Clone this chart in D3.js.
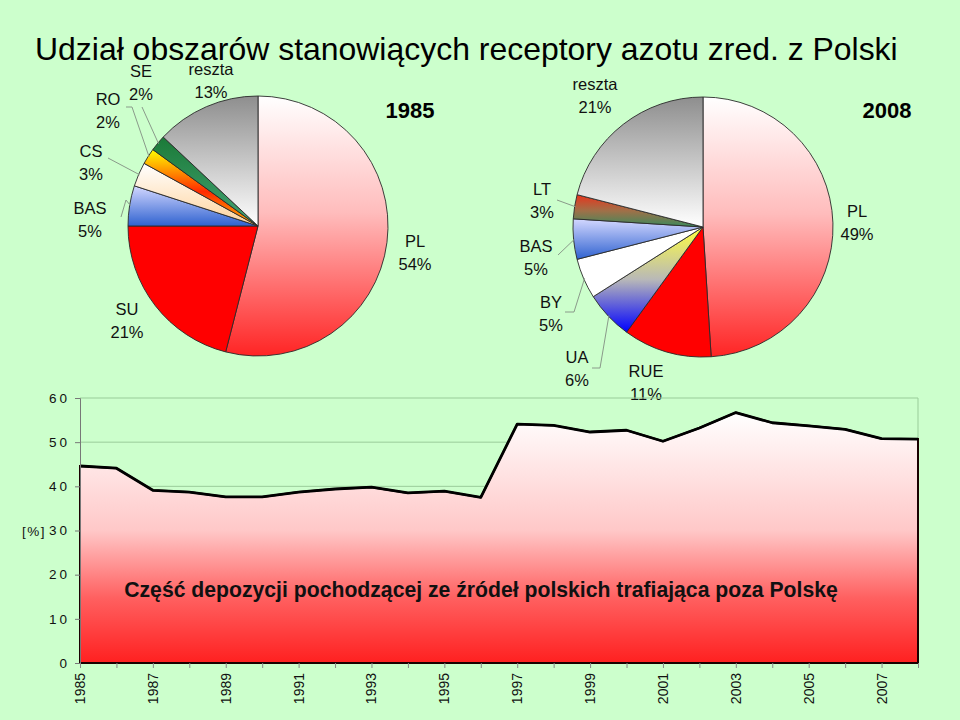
<!DOCTYPE html>
<html><head><meta charset="utf-8">
<script src="https://cdn.jsdelivr.net/npm/d3@7"></script>
<style>
html,body{margin:0;padding:0;background:#ccffcc;}
svg{display:block;font-family:"Liberation Sans",Arial,sans-serif;}
</style></head><body>
<svg id="chart" width="960" height="720"></svg>
<script>
// ---------- DATA ----------
const titleText = "Udział obszarów stanowiących receptory azotu zred. z Polski";
const areaCaption = "Część depozycji pochodzącej ze źródeł polskich trafiająca poza Polskę";
const years = [1985,1986,1987,1988,1989,1990,1991,1992,1993,1994,1995,1996,1997,1998,1999,2000,2001,2002,2003,2004,2005,2006,2007,2008];
const shareOutside = [44.6,44.1,39.1,38.7,37.6,37.6,38.7,39.4,39.8,38.5,38.9,37.5,54.1,53.8,52.3,52.7,50.2,53.2,56.7,54.4,53.7,52.9,50.8,50.7];
const yTicks = [0,10,20,30,40,50,60];
const xTickLabels = [1985,1987,1989,1991,1993,1995,1997,1999,2001,2003,2005,2007];
const yAxisUnit = "[%]";

const pie1985Year = "1985";
const pie1985Names = ["PL","SU","BAS","CS","RO","SE","reszta"];
const pie1985Values = [54,21,5,3,2,2,13];

const pie2008Year = "2008";
const pie2008Names = ["PL","RUE","UA","BY","BAS","LT","reszta"];
const pie2008Values = [49,11,6,5,5,3,21];

// ---------- STYLE / LAYOUT ----------
const svg = d3.select("#chart");
const defs = svg.append("defs");
svg.append("rect").attr("x",0).attr("y",0).attr("width",960).attr("height",720).attr("fill","#ccffcc");

function grad(id, stops) {
  const g = defs.append("linearGradient").attr("id", id)
    .attr("x1",0).attr("y1",0).attr("x2",0).attr("y2",1);
  stops.forEach(([o,c]) => g.append("stop").attr("offset",o).attr("stop-color",c));
  return `url(#${id})`;
}
const fPL = grad("gPL", [[0,"#ffffff"],[0.45,"#ffbcbc"],[1,"#ff2424"]]);
const fRed = "#ff0000";
const fBAS = grad("gBAS", [[0,"#d4d8ff"],[1,"#2f62d0"]]);
const fCS = grad("gCS", [[0,"#ffffff"],[1,"#ffd29a"]]);
const fRO = grad("gRO", [[0,"#ffff00"],[0.55,"#ff2a00"],[1,"#ffb800"]]);
const fSE = grad("gSE", [[0,"#1b7a38"],[1,"#44a374"]]);
const fRest = grad("gRest", [[0,"#8e8e8e"],[1,"#ffffff"]]);
const fUA = grad("gUA", [[0,"#ffff40"],[0.5,"#b8b8b8"],[1,"#0000ff"]]);
const fBY = "#ffffff";
const fLT = grad("gLT", [[0,"#e8341c"],[0.5,"#a07048"],[1,"#3a8a5c"]]);

const fills1985 = {PL:fPL, SU:fRed, BAS:fBAS, CS:fCS, RO:fRO, SE:fSE, reszta:fRest};
const fills2008 = {PL:fPL, RUE:fRed, UA:fUA, BY:fBY, BAS:fBAS, LT:fLT, reszta:fRest};

const R = 130;
const pies = [
  {cx:258, cy:226, names:pie1985Names, values:pie1985Values, fills:fills1985, year:pie1985Year, yearPos:[410,118],
   labels:{PL:[415,247], SU:[127,315], BAS:[90,214], CS:[91,157], RO:[108,105], SE:[141,77], reszta:[211,75]},
   leaders:{SE:[[142,107]], RO:[[126,107],[132,107]], CS:[[108,158]], BAS:[[121,217],[126,200]]}},
  {cx:703, cy:227, names:pie2008Names, values:pie2008Values, fills:fills2008, year:pie2008Year, yearPos:[887,118],
   labels:{PL:[857,217], RUE:[646,377], UA:[577,363], BY:[551,308], BAS:[536,252], LT:[542,195], reszta:[595,90]},
   leaders:{LT:[[557,200]], BAS:[[558,255]], BY:[[565,312],[574,312]], UA:[[592,368],[600,368]]}}
];

const labelFont = 16.5;
pies.forEach(p => {
  const data = p.names.map((n,i) => ({name:n, value:p.values[i]}));
  const arcs = d3.pie().sort(null).value(d => d.value).startAngle(0).endAngle(2*Math.PI)(data);
  const arcGen = d3.arc().innerRadius(0).outerRadius(R);
  const g = svg.append("g").attr("transform", `translate(${p.cx},${p.cy})`);
  g.selectAll("path").data(arcs).join("path")
    .attr("d", arcGen)
    .attr("fill", d => p.fills[d.data.name])
    .attr("stroke", "#2a2a2a").attr("stroke-width", 0.9).attr("stroke-linejoin","round");

  // leader lines
  arcs.forEach(a => {
    const pts = p.leaders[a.data.name];
    if (!pts) return;
    const mid = (a.startAngle + a.endAngle)/2;
    const end = [p.cx + Math.sin(mid)*(R-1), p.cy - Math.cos(mid)*(R-1)];
    svg.append("path")
      .attr("d", d3.line()([...pts, end]))
      .attr("fill","none").attr("stroke","#8a9a8a").attr("stroke-width",1);
  });

  // labels
  arcs.forEach(a => {
    const pos = p.labels[a.data.name];
    const t = svg.append("text").attr("text-anchor","middle")
      .attr("font-size", labelFont).attr("fill","#111");
    t.append("tspan").attr("x",pos[0]).attr("y",pos[1]).text(a.data.name);
    t.append("tspan").attr("x",pos[0]).attr("y",pos[1]+22.5).text(a.data.value + "%");
  });

  svg.append("text").attr("x",p.yearPos[0]).attr("y",p.yearPos[1])
    .attr("text-anchor","middle").attr("font-size",22).attr("font-weight","bold").attr("fill","#000")
    .text(p.year);
});

// ---------- AREA CHART ----------
const x = d3.scaleLinear().domain([years[0], years[years.length-1]]).range([80, 918]);
const y = d3.scaleLinear().domain([0, 60]).range([663, 398]);

const plot = svg.append("g");
// gridlines
plot.selectAll("line.grid").data(yTicks.filter(v => v > 0)).join("line")
  .attr("x1", x.range()[0]).attr("x2", x.range()[1])
  .attr("y1", d => y(d)).attr("y2", d => y(d))
  .attr("stroke","#99cc99").attr("stroke-width",1);
plot.append("line").attr("x1",918).attr("x2",918).attr("y1",y(60)).attr("y2",y(0))
  .attr("stroke","#99cc99").attr("stroke-width",1);

const fArea = grad("gArea", [[0,"#ffffff"],[0.47,"#ffc8c8"],[0.74,"#ff6060"],[1,"#ff2020"]]);
const series = years.map((yr,i) => ({year:yr, v:shareOutside[i]}));
const areaGen = d3.area().x(d => x(d.year)).y0(y(0)).y1(d => y(d.v));
plot.append("path").datum(series).attr("d", areaGen)
  .attr("fill", fArea).attr("stroke","#1a0000").attr("stroke-width",2).attr("stroke-linejoin","miter");
const lineGen = d3.line().x(d => x(d.year)).y(d => y(d.v));
plot.append("path").datum(series).attr("d", lineGen)
  .attr("fill","none").attr("stroke","#000").attr("stroke-width",2.8).attr("stroke-linejoin","round");

// y axis
const yAxis = svg.append("g").attr("transform","translate(80,0)")
  .call(d3.axisLeft(y).tickValues(yTicks).tickSize(5).tickPadding(4).tickFormat(d3.format("d")));
yAxis.select(".domain").attr("stroke","#777");
yAxis.selectAll(".tick line").attr("stroke","#777");
yAxis.selectAll(".tick text").attr("font-family","Liberation Sans, Arial, sans-serif")
  .attr("font-size",13.5).attr("letter-spacing","3px").attr("fill","#111").attr("dx", "-1");
svg.append("text").attr("x",22).attr("y", y(30)+5).attr("font-size",13.5)
  .attr("letter-spacing","1.5px").attr("fill","#111").text(yAxisUnit);

// x axis
const xAxis = svg.append("g").attr("transform",`translate(0,${y(0)})`)
  .call(d3.axisBottom(x).tickValues(years).tickSize(5).tickFormat(""));
xAxis.select(".domain").remove();
xAxis.selectAll(".tick line").attr("stroke","#888");
svg.append("g").selectAll("text").data(xTickLabels).join("text")
  .attr("transform", d => `translate(${x(d)+5},673) rotate(-90)`)
  .attr("text-anchor","end").attr("font-size",14).attr("fill","#111").text(d => d);

// caption inside area
const cap = svg.append("text").attr("x",481).attr("y",597).attr("text-anchor","middle")
  .attr("font-size",20).attr("font-weight","bold").attr("fill","#111").text(areaCaption);
{
  const w = cap.node().getComputedTextLength();
  cap.attr("font-size", 20*714/w);
}

// title
const title = svg.append("text").attr("x",35).attr("y",60)
  .attr("font-size",28).attr("fill","#000").text(titleText);
{
  const w = title.node().getComputedTextLength();
  title.attr("font-size", 28*863/w);
}
</script>
</body></html>
